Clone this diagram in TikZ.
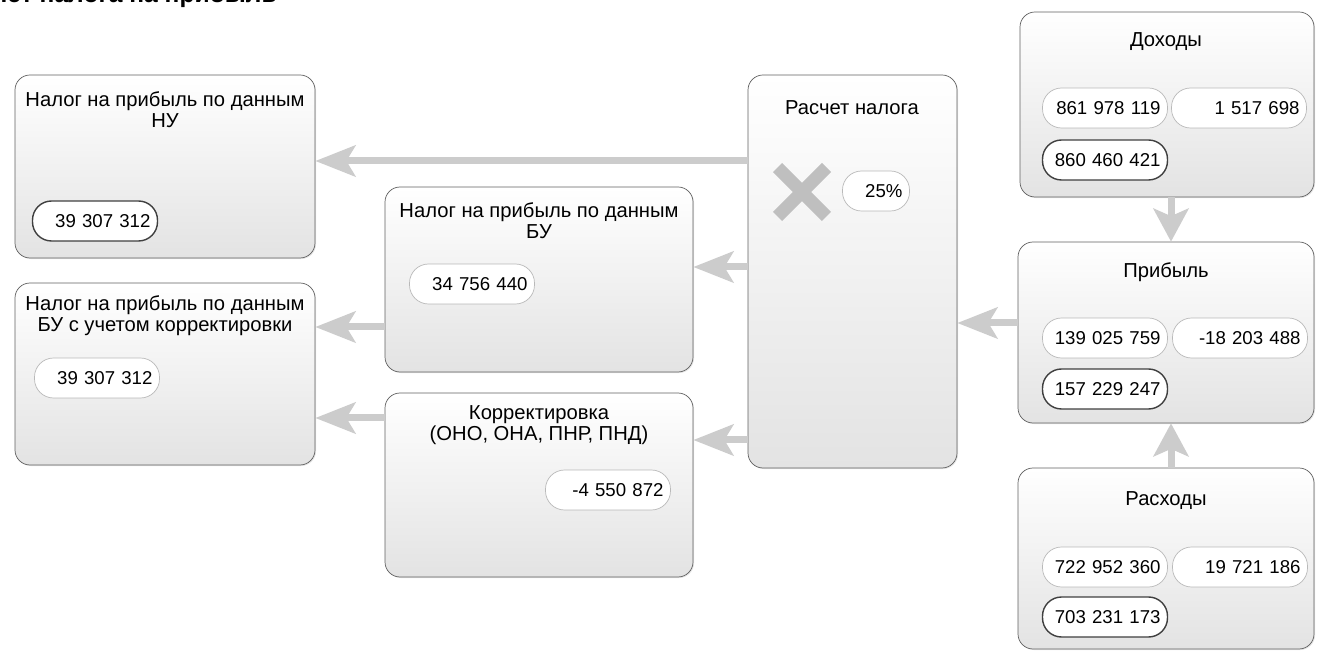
\documentclass[tikz,border=0pt]{standalone}
\usepackage{fontspec}
\setmainfont{Liberation Sans}
\usetikzlibrary{arrows.meta, fit, shapes.misc, shadows}

\tikzset{
  box/.style={draw=gray!75!black, rounded corners=0.3cm, top color=white, bottom color=gray!22,
    inner sep=0pt, drop shadow={opacity=0.2, shadow xshift=0.6pt, shadow yshift=-0.6pt}},
  title/.style={align=center, inner sep=0pt, font=\fontsize{11.5}{12}\selectfont},
  pill/.style={draw=gray!55, fill=white, rounded corners=0.38cm, minimum height=0.8cm,
    text width=#1, align=right, inner xsep=0.14cm, font=\fontsize{10.6}{12}\selectfont},
  pill/.default=2.22cm,
  itog/.style={pill, draw=black!75, line width=0.8pt},
  flow/.style={draw=gray!40, line width=0.14cm, -{Stealth[length=0.8cm, width=0.62cm, inset=0.18cm]}},
  flowv/.style={flow, -{Stealth[length=0.66cm, width=0.7cm, inset=0.15cm]}},
}

\begin{document}
\begin{tikzpicture}[x=0.02cm, y=-0.02cm]
\useasboundingbox (0,0) rectangle (1318,651);
\begin{scope}
\clip (0,0) rectangle (1318,651);
\node[anchor=base east, inner sep=0pt, font=\bfseries\fontsize{14}{16}\selectfont] (zag) at (277,3) {Расчет налога на прибыль};

\node[box, fit={(15,75) (315,258)}] (nu) {};
\node[box, fit={(15,283) (315,465)}] (bukorr) {};
\node[box, fit={(385,187) (693,372)}] (bu) {};
\node[box, fit={(385,393) (693,577)}] (korr) {};
\node[box, fit={(748,75) (957,468)}] (raschet) {};
\node[box, fit={(1020,12) (1314,197)}] (dohody) {};
\node[box, fit={(1018,242) (1314,423)}] (pribyl) {};
\node[box, fit={(1018,468) (1314,649)}] (rashody) {};
\end{scope}

\node[title] (tnu) at (165,110) {Налог на прибыль по данным\\НУ};
\node[title] (tbukorr) at (165,316) {Налог на прибыль по данным\\БУ с учетом корректировки};
\node[title] (tbu) at (539,221) {Налог на прибыль по данным\\БУ};
\node[title] (tkorr) at (539,425) {Корректировка\\(ОНО, ОНА, ПНР, ПНД)};
\node[title] (traschet) at (852,108) {Расчет налога};
\node[title] (tdohody) at (1166,42) {Доходы};
\node[title] (tpribyl) at (1166,272) {Прибыль};
\node[title] (trashody) at (1166,501) {Расходы};

\node[itog] (nuval) at (95,221) {39 307 312};
\node[pill] (bukorrval) at (97,378) {39 307 312};
\node[pill] (buval) at (472,284) {34 756 440};
\node[pill] (korrval) at (608,490) {-4 550 872};
\node[draw=gray!50, cross out, line width=0.26cm, minimum size=0.72cm, inner sep=0pt] (umn) at (802,192) {};
\node[pill=1.06cm] (stavka) at (876,191) {25\%};

\node[pill] (doh1) at (1105,108) {861 978 119};
\node[pill=2.42cm] (doh2) at (1239,108) {1 517 698};
\node[itog] (doh3) at (1105,160) {860 460 421};
\node[pill] (prib1) at (1105,338) {139 025 759};
\node[pill=2.42cm] (prib2) at (1240,338) {-18 203 488};
\node[itog] (prib3) at (1105,389) {157 229 247};
\node[pill] (rash1) at (1105,567) {722 952 360};
\node[pill=2.42cm] (rash2) at (1240,567) {19 721 186};
\node[itog] (rash3) at (1105,617) {703 231 173};

\draw[flow] (raschet.west |- 0,161) -- (nu.east |- 0,161);
\draw[flow] (raschet.west |- 0,267) -- (bu.east |- 0,267);
\draw[flow] (raschet.west |- 0,440) -- (korr.east |- 0,440);
\draw[flow] (bu.west |- 0,327) -- (bukorr.east |- 0,327);
\draw[flow] (korr.west |- 0,418) -- (bukorr.east |- 0,418);
\draw[flow] (pribyl.west |- 0,323) -- (raschet.east |- 0,323);
\draw[flowv] (1171,0 |- dohody.south) -- (1171,0 |- pribyl.north);
\draw[flowv] (1171,0 |- rashody.north) -- (1171,0 |- pribyl.south);
\end{tikzpicture}
\end{document}
